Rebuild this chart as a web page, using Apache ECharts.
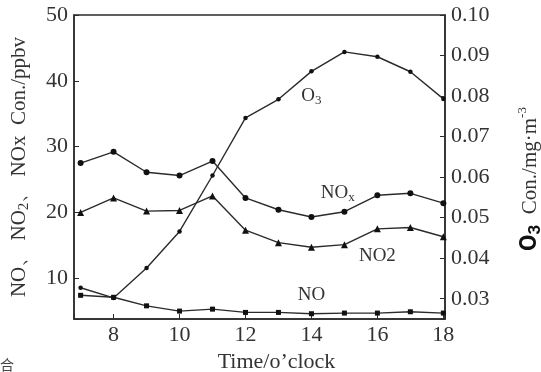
<!DOCTYPE html>
<html>
<head>
<meta charset="utf-8">
<script src="https://cdn.jsdelivr.net/npm/echarts@6/dist/echarts.min.js"></script>
<style>
  html, body { margin: 0; padding: 0; background: #fff; }
</style>
</head>
<body>
<div id="lineEcharts" style="width:541px;height:372px"></div>
<script>
// time of day (o'clock)
const hours = [7, 8, 9, 10, 11, 12, 13, 14, 15, 16, 17, 18]
// left axis, ppbv
const noVals = [7.4, 7.1, 5.8, 5.0, 5.3, 4.8, 4.8, 4.6, 4.7, 4.7, 4.9, 4.7]
const no2Vals = [20.0, 22.2, 20.2, 20.3, 22.5, 17.3, 15.4, 14.7, 15.1, 17.5, 17.7, 16.3]
const noxVals = [27.5, 29.2, 26.1, 25.6, 27.8, 22.2, 20.4, 19.3, 20.1, 22.6, 22.9, 21.4]
// right axis, mg/m3
const o3Vals = [0.0327, 0.0302, 0.0376, 0.0466, 0.0604, 0.0746, 0.0792, 0.0861, 0.0909, 0.0897, 0.0860, 0.0793]

const lineColor = '#2b2b2b'
const textColor = '#333'
const serif = '"Liberation Serif", "DejaVu Serif", serif'

function pairs(vals) {
  return hours.map((h, i) => [h, vals[i]])
}
function isStep(v, step) {
  return Math.abs(v / step - Math.round(v / step)) < 1e-6
}
// text label placed in data coordinates
function tag(coord, text, rich) {
  return {
    symbol: 'rect',
    symbolSize: 1,
    silent: true,
    animation: false,
    itemStyle: { color: 'rgba(0,0,0,0)' },
    label: { show: true, position: 'inside', formatter: text, rich: rich },
    data: [{ coord: coord }]
  }
}
const labelRich = {
  n: { fontFamily: serif, fontSize: 19, color: textColor },
  s: { fontFamily: serif, fontSize: 13, color: textColor, verticalAlign: 'bottom', lineHeight: 22 }
}
const nameRich = {
  n: { fontFamily: serif, fontSize: 21, color: textColor },
  s: { fontFamily: serif, fontSize: 15, color: textColor, verticalAlign: 'bottom', lineHeight: 25 }
}

let option = {
  backgroundColor: '#fff',
  animation: false,
  grid: {
    show: true,
    left: 74,
    right: 96,
    top: 15,
    bottom: 53,
    containLabel: false,
    outerBoundsMode: 'none',
    borderColor: lineColor,
    borderWidth: 1.5,
    backgroundColor: 'rgba(0,0,0,0)'
  },
  xAxis: {
    type: 'value',
    min: 6.8,
    max: 18.05,
    splitNumber: 6,
    name: 'Time/o’clock',
    nameLocation: 'middle',
    nameGap: 30,
    nameTextStyle: { fontFamily: serif, fontSize: 22, color: textColor, padding: [0, 0, 0, 34] },
    axisLine: { show: true, lineStyle: { color: lineColor, width: 1.5 } },
    axisTick: { show: true, inside: true, length: 5, lineStyle: { color: lineColor } },
    axisLabel: {
      margin: 5,
      fontFamily: serif,
      fontSize: 22,
      color: textColor,
      formatter: v => (isStep(v, 1) ? String(Math.round(v)) : '')
    },
    splitLine: { show: false }
  },
  yAxis: [
    {
      type: 'value',
      min: 3.8,
      max: 50,
      splitNumber: 5,
      position: 'left',
      name: '{n|NO、 NO}{s|2}{n|、 NOx  Con./ppbv}',
      nameLocation: 'middle',
      nameRotate: 90,
      nameGap: 42,
      nameTextStyle: { rich: nameRich },
      axisLine: { show: true, lineStyle: { color: lineColor, width: 1.5 } },
      axisTick: { show: true, inside: true, length: 5, lineStyle: { color: lineColor } },
      axisLabel: {
        margin: 6,
        fontFamily: serif,
        fontSize: 22,
        color: textColor,
        formatter: v => (isStep(v, 10) ? String(Math.round(v)) : '')
      },
      splitLine: { show: false }
    },
    {
      type: 'value',
      min: 0.025,
      max: 0.10,
      splitNumber: 7,
      position: 'right',
      name: '{b|O}{bs|3}{n|  Con./mg·m}{sup|-3}',
      nameLocation: 'middle',
      nameRotate: 90,
      nameGap: 71,
      nameTextStyle: {
        padding: [0, 24, 0, 0],
        rich: {
          b: { fontFamily: 'Roboto, "DejaVu Sans", sans-serif', fontWeight: 'bold', fontSize: 24, color: '#111' },
          bs: { fontFamily: 'Roboto, "DejaVu Sans", sans-serif', fontWeight: 'bold', fontSize: 17, color: '#111', verticalAlign: 'bottom', lineHeight: 28 },
          n: { fontFamily: serif, fontSize: 21, color: textColor },
          sup: { fontFamily: serif, fontSize: 13, color: textColor, verticalAlign: 'top', lineHeight: 28 }
        }
      },
      axisLine: { show: true, lineStyle: { color: lineColor, width: 1.5 } },
      axisTick: { show: true, inside: true, length: 5, lineStyle: { color: lineColor } },
      axisLabel: {
        margin: 6,
        fontFamily: serif,
        fontSize: 22,
        color: textColor,
        formatter: v => (isStep(v, 0.01) ? v.toFixed(2) : '')
      },
      splitLine: { show: false }
    }
  ],
  series: [
    {
      name: 'NOx',
      type: 'line',
      yAxisIndex: 0,
      symbol: 'circle',
      symbolSize: 6,
      lineStyle: { color: lineColor, width: 1.4 },
      itemStyle: { color: '#111' },
      data: pairs(noxVals),
      markPoint: tag([14.8, 22.9], '{n|NO}{s|x}', labelRich)
    },
    {
      name: 'NO2',
      type: 'line',
      yAxisIndex: 0,
      symbol: 'triangle',
      symbolSize: 7,
      lineStyle: { color: lineColor, width: 1.4 },
      itemStyle: { color: '#111' },
      data: pairs(no2Vals),
      markPoint: tag([16.0, 13.3], '{n|NO2}', labelRich)
    },
    {
      name: 'NO',
      type: 'line',
      yAxisIndex: 0,
      symbol: 'rect',
      symbolSize: 5,
      lineStyle: { color: lineColor, width: 1.4 },
      itemStyle: { color: '#111' },
      data: pairs(noVals),
      markPoint: tag([14.0, 7.4], '{n|NO}', labelRich)
    },
    {
      name: 'O3',
      type: 'line',
      yAxisIndex: 1,
      symbol: 'circle',
      symbolSize: 4.5,
      lineStyle: { color: lineColor, width: 1.4 },
      itemStyle: { color: '#111' },
      data: pairs(o3Vals),
      markPoint: tag([14.0, 0.080], '{n|O}{s|3}', labelRich)
    }
  ],
  graphic: [
    {
      type: 'text',
      left: 0,
      top: 358,
      style: { text: '合', font: '14px "Noto Sans CJK SC"', fill: '#444' }
    }
  ]
}

const chart = echarts.init(document.getElementById('lineEcharts'), null, { renderer: 'canvas' })
chart.setOption(option)
</script>
</body>
</html>
